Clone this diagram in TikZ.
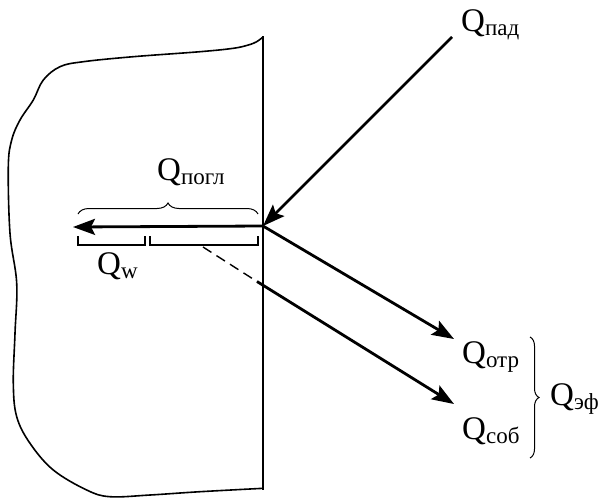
\documentclass[tikz,border=0pt]{standalone}
\usepackage{fontspec}
\setmainfont{Liberation Serif}
\usetikzlibrary{arrows.meta,decorations.pathreplacing}
\newcommand{\Qlab}[1]{Q\raisebox{-4pt}{\fontsize{23}{23}\selectfont #1}}
\begin{document}
\begin{tikzpicture}[x=1pt,y=-1pt,
  flow/.style={line width=2.8pt,-{Stealth[length=22pt,width=16pt,inset=4pt]}},
  wall/.style={line width=2.8pt},
  outline/.style={line width=1.6pt},
  bracket/.style={line width=1.7pt},
  curly/.style={line width=1pt,decorate,decoration={brace,amplitude=11pt}},
  lab/.style={font=\fontsize{33}{38}\selectfont,inner sep=0pt,anchor=base west}]
\useasboundingbox (0,0) rectangle (599,498);
% body outline
\draw[outline] plot[smooth,tension=0.6] coordinates {
 (263.3,36.7) (256.7,41.7) (248.3,45) (233.3,48.3) (200,51.7) (133.3,56.7)
 (83.3,61.7) (60,66.7) (43.3,80) (33.3,100) (20,120) (11.7,140) (8.3,166.7)
 (10,233.3) (16.7,283.3) (15,333.3) (13.3,383.3) (16.7,416.7) (30,443.3)
 (53.3,470) (86.7,490) (110,496.7) (150,495) (200,491.7) (263.3,488.3)};
% wall
\coordinate (wtop) at (263,36);
\coordinate (wbot) at (263,490);
\draw[wall] (wtop) -- (wbot);
% key points
\coordinate (hit) at (263,226);
\coordinate (padstart) at (452,37);
\coordinate (absend) at (73,227);
\coordinate (otrend) at (454,339);
\coordinate (sobstart) at (203,247);
\coordinate (sobmid) at (257,281.5);
\coordinate (sobend) at (454,404);
\draw[flow] (padstart) -- (hit);
\draw[flow] (hit) -- (absend);
\draw[flow] (hit) -- (otrend);
\draw[line width=1.4pt,dash pattern=on 10pt off 6pt] (sobstart) -- (sobmid);
\draw[flow] (sobmid) -- (sobend);
% braces and brackets
\coordinate (bl) at (78,214);
\coordinate (br) at (258,214);
\draw[curly] (bl) -- (br);
\coordinate (k1a) at (78,236);
\coordinate (k1b) at (145,236);
\coordinate (k2a) at (150,236);
\coordinate (k2b) at (258,236);
\draw[bracket] (k1a) -- ++(0,9) -| (k1b);
\draw[bracket] (k2a) -- ++(0,9) -| (k2b);
\coordinate (rt) at (530,337);
\coordinate (rb) at (530,458);
\draw[curly,decoration={brace,amplitude=9pt}] (rt) -- (rb);
% labels
\node[lab] (qpad) at (461,31) {\Qlab{пад}};
\node[lab] (qpogl) at (157,180) {\Qlab{погл}};
\node[lab] (qw) at (97,274) {\Qlab{w}};
\node[lab] (qotr) at (462,363) {\Qlab{отр}};
\node[lab] (qsob) at (462,439) {\Qlab{соб}};
\node[lab] (qef) at (550,405) {\Qlab{эф}};
\end{tikzpicture}
\end{document}
